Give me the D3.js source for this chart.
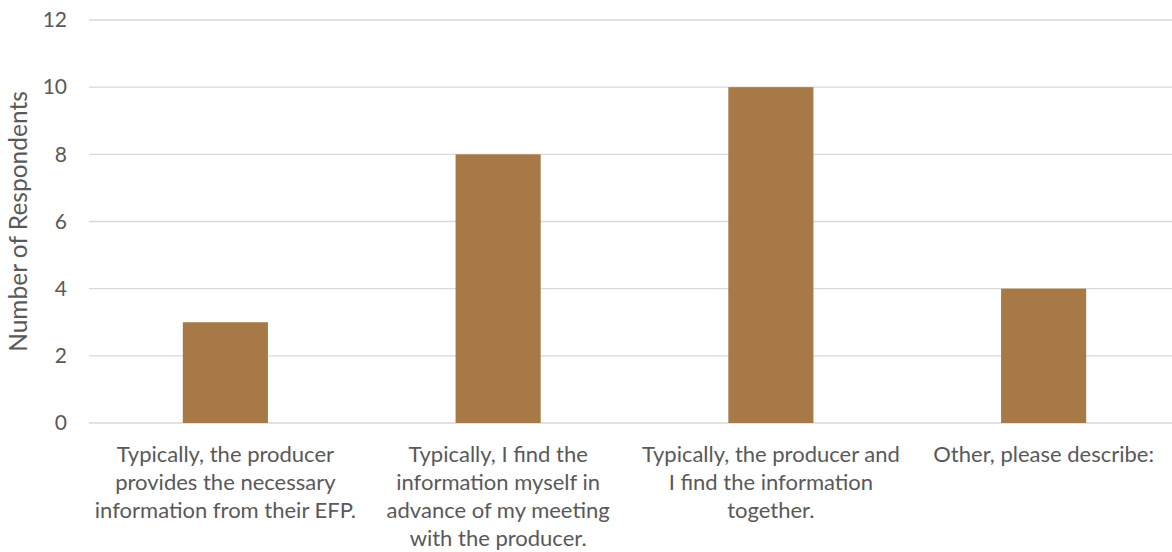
<!DOCTYPE html>
<html>
<head>
<meta charset="utf-8">
<script src="https://cdn.jsdelivr.net/npm/d3@7"></script>
<style>
  html, body { margin: 0; padding: 0; background: #fff; }
  svg { display: block; font-family: Lato, "Open Sans", sans-serif; }
</style>
</head>
<body>
<svg id="chart" width="1172" height="552"></svg>
<script>
// Response categories, each split into the lines shown under the axis
const categories = [
  ["Typically, the producer", "provides the necessary", "information from their EFP."],
  ["Typically, I find the", "information myself in", "advance of my meeting", "with the producer."],
  ["Typically, the producer and", "I find the information", "together."],
  ["Other, please describe:"]
];
const respondents = [3, 8, 10, 4];
const yTicks = [0, 2, 4, 6, 8, 10, 12];
const yLabel = "Number of Respondents";

const svg = d3.select("#chart");
const margin = { left: 89, right: -8, top: 20, bottom: 129 };
const W = 1172, H = 552;

const x = d3.scaleBand()
  .domain(d3.range(categories.length))
  .range([margin.left, W - margin.right])
  .padding(0);

const y = d3.scaleLinear()
  .domain([0, 12])
  .range([H - margin.bottom, margin.top]);

const textColor = "#595959";
const gridColor = "#d9d9d9";
const barColor = "#a67946";
const barFrac = 0.312;

// Horizontal gridlines
svg.append("g")
  .selectAll("line")
  .data(yTicks)
  .join("line")
  .attr("x1", margin.left)
  .attr("x2", W)
  .attr("y1", d => y(d))
  .attr("y2", d => y(d))
  .attr("stroke", gridColor)
  .attr("stroke-width", 1.3);

// Y axis tick labels
const yAxis = d3.axisLeft(y).tickValues(yTicks).tickSize(0).tickPadding(0);
const gy = svg.append("g")
  .attr("transform", `translate(${margin.left - 22},0)`)
  .call(yAxis);
gy.select(".domain").remove();
gy.selectAll("text")
  .attr("fill", textColor)
  .style("font-size", "21px")
  .style("font-family", "Lato, sans-serif");

// Bars
const bw = x.bandwidth() * barFrac;
svg.append("g")
  .selectAll("rect")
  .data(respondents)
  .join("rect")
  .attr("x", (d, i) => x(i) + (x.bandwidth() - bw) / 2)
  .attr("width", bw)
  .attr("y", d => y(d))
  .attr("height", d => y(0) - y(d))
  .attr("fill", barColor);

// Category labels under the baseline
const labels = svg.append("g")
  .selectAll("text")
  .data(categories)
  .join("text")
  .attr("text-anchor", "middle")
  .attr("fill", textColor)
  .style("font-size", "22px")
  .attr("x", (d, i) => x(i) + x.bandwidth() / 2)
  .attr("y", y(0) + 39);
labels.selectAll("tspan")
  .data(d => d)
  .join("tspan")
  .attr("x", function () { return d3.select(this.parentNode).attr("x"); })
  .attr("dy", (d, i) => i === 0 ? 0 : 28)
  .text(d => d);

// Y axis title
svg.append("text")
  .attr("transform", `translate(27, ${(y(0) + y(12)) / 2}) rotate(-90)`)
  .attr("text-anchor", "middle")
  .attr("fill", textColor)
  .style("font-size", "24.5px")
  .text(yLabel);
</script>
</body>
</html>
